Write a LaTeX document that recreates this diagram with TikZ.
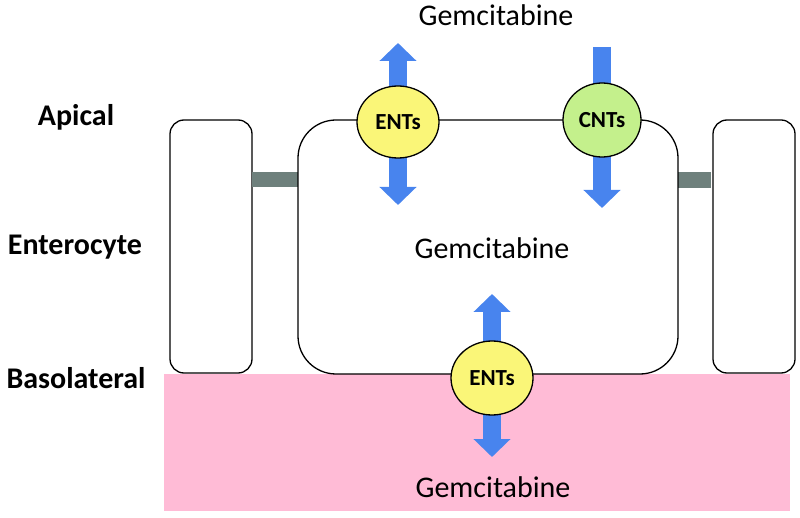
\documentclass[tikz,border=0pt]{standalone}
\usepackage{fontspec}
\setmainfont{Carlito}
\usepackage{tikz}
\usetikzlibrary{arrows.meta,shapes.geometric}

\definecolor{lumen}{RGB}{255,187,214}
\definecolor{flowblue}{RGB}{72,132,238}
\definecolor{entyellow}{RGB}{250,246,120}
\definecolor{cntgreen}{RGB}{196,240,140}
\definecolor{tjgrey}{RGB}{110,128,124}

\tikzset{
	cellbox/.style={draw=black, line width=1.3pt},
	transporter/.style={shape=ellipse, draw=black, line width=1.3pt, inner sep=0pt, font=\fontsize{23}{24}\selectfont\bfseries},
	flow/.style={color=flowblue, line width=18pt, -{Triangle[width=36pt,length=18pt,fill=flowblue]}},
	sidelabel/.style={font=\fontsize{30}{32}\selectfont\bfseries},
	druglabel/.style={font=\fontsize{30}{32}\selectfont}
}

\begin{document}
\begin{tikzpicture}[x=1pt, y=-1pt]
	
	\useasboundingbox (0,0) rectangle (800,518);
	
	% basolateral side
	\fill[lumen] (164,374) rectangle (790,511);
	
	% neighbouring cells and junctions
	\draw[cellbox, rounded corners=14pt] (170,120) rectangle (252,373);
	\draw[cellbox, rounded corners=14pt] (713,120) rectangle (795,373);
	\fill[tjgrey] (252,172) rectangle (298,187);
	\fill[tjgrey] (678,172) rectangle (711,188);
	
	% the enterocyte
	\draw[cellbox, rounded corners=38pt] (298,120) rectangle (678,374);
	
	\coordinate (ent1) at (398,122);
	\coordinate (cnt) at (602,120);
	\coordinate (ent2) at (492,378);
	
	\coordinate (ent1up) at (398,43);
	\coordinate (ent1down) at (398,205);
	\coordinate (cnttop) at (602,47);
	\coordinate (cntdown) at (602,208);
	\coordinate (ent2up) at (492,294);
	\coordinate (ent2down) at (492,457);
	
	\path[flow] (ent1) edge (ent1up);
	\path[flow] (ent1) edge (ent1down);
	\path[flow] (cnttop) edge (cntdown);
	\path[flow] (ent2) edge (ent2up);
	\path[flow] (ent2) edge (ent2down);
	
	\node[transporter, fill=entyellow, minimum width=82pt, minimum height=72pt] (a) at (ent1) {ENTs};
	\node[transporter, fill=cntgreen, minimum width=78pt, minimum height=74pt] (b) at (cnt) {CNTs};
	\node[transporter, fill=entyellow, minimum width=82pt, minimum height=74pt] (c) at (ent2) {ENTs};
	
	\node[druglabel] (g1) at (496,15) {Gemcitabine};
	\node[druglabel] (g2) at (492,248) {Gemcitabine};
	\node[druglabel] (g3) at (493,487) {Gemcitabine};
	
	\node[sidelabel] (s1) at (76,117) {Apical};
	\node[sidelabel] (s2) at (75,247) {Enterocyte};
	\node[sidelabel] (s3) at (76,378) {Basolateral};
	
\end{tikzpicture}
\end{document}
